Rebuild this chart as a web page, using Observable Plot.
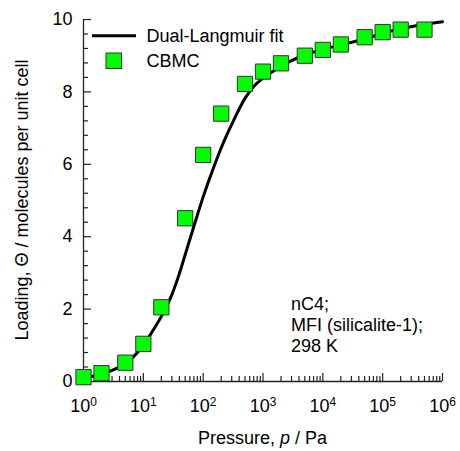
<!DOCTYPE html>
<html>
<head>
<meta charset="utf-8">
<script src="https://cdn.jsdelivr.net/npm/d3@7"></script>
<script src="https://cdn.jsdelivr.net/npm/@observablehq/plot@0.6"></script>
<style>
  html, body { margin: 0; padding: 0; background: #fff; }
  #chart svg { display: block; }
</style>
</head>
<body>
<div id="chart"></div>
<script>
// CBMC simulation data (pressure in Pa, loading in molecules per unit cell)
const cbmcPressure = [1, 2, 5, 10, 20, 50, 100, 200, 500, 1e3, 2e3, 5e3, 1e4, 2e4, 5e4, 1e5, 2e5, 5e5];
const cbmcLoading  = [0.12, 0.23, 0.52, 1.04, 2.05, 4.51, 6.26, 7.40, 8.22, 8.56, 8.79, 9.00, 9.16, 9.31, 9.51, 9.65, 9.72, 9.72];

// Dual-Langmuir fit curve
const fitPressure = [1, 1.5, 2, 3, 5, 7, 10, 15, 20, 30, 40, 50, 60, 70, 80, 100, 150, 200, 300, 500, 700, 1000, 1500, 2500, 5000, 1e4, 2e4, 5e4, 1e5, 2e5, 5e5, 1e6];
const fitLoading  = [0.10, 0.15, 0.21, 0.31, 0.50, 0.70, 1.00, 1.45, 1.80, 2.40, 2.98, 3.50, 3.93, 4.29, 4.60, 5.10, 5.92, 6.45, 7.10, 7.82, 8.15, 8.38, 8.58, 8.80, 9.02, 9.17, 9.30, 9.46, 9.62, 9.74, 9.87, 9.94];

// Axis ticks
const xMajorTicks = [1, 10, 100, 1e3, 1e4, 1e5, 1e6];
const xMinorTicks = xMajorTicks.slice(0, -1).flatMap(d => [2, 3, 4, 5, 6, 7, 8, 9].map(m => m * d));
const yMajorTicks = [0, 2, 4, 6, 8, 10];
const yMinorTicks = [0.4, 0.8, 1.2, 1.6, 2.4, 2.8, 3.2, 3.6, 4.4, 4.8, 5.2, 5.6, 6.4, 6.8, 7.2, 7.6, 8.4, 8.8, 9.2, 9.6];

const legendLabels = ["Dual-Langmuir fit", "CBMC"];
const annotationLines = ["nC4;", "MFI (silicalite-1);", "298 K"];

const cbmc = cbmcPressure.map((p, i) => ({p, q: cbmcLoading[i]}));
const fit = fitPressure.map((p, i) => ({p, q: fitLoading[i]}));

const W = 460, H = 451;
const mL = 83, mR = 18, mT = 19, mB = 70;
const fW = W - mL - mR, fH = H - mT - mB;
const axisColor = "#222";
const font = "'Liberation Sans', Arial, sans-serif";

const plot = Plot.plot({
  width: W,
  height: H,
  marginLeft: mL,
  marginRight: mR,
  marginTop: mT,
  marginBottom: mB,
  style: {fontSize: "18px", fontFamily: font, color: "#000", background: "#fff"},
  x: {type: "log", domain: [1, 1e6]},
  y: {domain: [0, 10]},
  marks: [
    Plot.axisX({ticks: xMajorTicks, tickSize: 0, tickPadding: 18, tickFormat: d => "10^" + Math.round(Math.log10(d)), label: null}),
    Plot.axisY({ticks: yMajorTicks, tickSize: 0, tickPadding: 11, label: null}),
    // inward ticks
    Plot.tickX(xMajorTicks, {x: d => d, insetTop: fH - 8, stroke: axisColor, strokeWidth: 1.2}),
    Plot.tickX(xMinorTicks, {x: d => d, insetTop: fH - 5, stroke: axisColor, strokeWidth: 1.2}),
    Plot.tickY(yMajorTicks, {y: d => d, insetRight: fW - 8, stroke: axisColor, strokeWidth: 1.2}),
    Plot.tickY(yMinorTicks, {y: d => d, insetRight: fW - 5, stroke: axisColor, strokeWidth: 1.2}),
    Plot.ruleY([0], {stroke: axisColor, strokeWidth: 1.3}),
    Plot.ruleX([1], {stroke: axisColor, strokeWidth: 1.3}),
    Plot.line(fit, {x: "p", y: "q", curve: "monotone-x", stroke: "#000", strokeWidth: 3}),
    Plot.dot(cbmc, {x: "p", y: "q", symbol: "square", r: 8.6, fill: "#00ff00", fillOpacity: 1, stroke: "#333", strokeWidth: 1})
  ]
});

const svg = d3.select(plot);

// superscript exponents on the x tick labels
svg.selectAll('g[aria-label="x-axis tick label"] text').each(function() {
  const t = d3.select(this);
  const s = t.text();
  const parts = s.split("^");
  if (parts.length === 2) {
    t.text(parts[0]);
    t.append("tspan").attr("dy", "-6").attr("font-size", "12px").text(parts[1]);
  }
});

// axis titles
svg.append("text")
  .attr("transform", `translate(22,${mT + fH / 2}) rotate(-90)`)
  .attr("text-anchor", "middle")
  .attr("dominant-baseline", "central")
  .attr("font-size", "18px")
  .attr("font-family", font)
  .attr("fill", "#000")
  .text("Loading, Θ / molecules per unit cell");

const xl = svg.append("text")
  .attr("x", mL + fW / 2)
  .attr("y", 444)
  .attr("text-anchor", "middle")
  .attr("font-size", "18px")
  .attr("font-family", font)
  .attr("fill", "#000");
xl.append("tspan").text("Pressure, ");
xl.append("tspan").attr("font-style", "italic").text("p");
xl.append("tspan").text(" / Pa");

// legend
const lg = svg.append("g").attr("font-size", "18px").attr("font-family", font).attr("fill", "#000").attr("text-anchor", "start");
lg.append("line").attr("x1", 92).attr("x2", 136).attr("y1", 35.7).attr("y2", 35.7)
  .attr("stroke", "#000").attr("stroke-width", 3);
lg.append("text").attr("x", 146.5).attr("y", 35.7).attr("dominant-baseline", "central").text(legendLabels[0]);
lg.append("rect").attr("x", 106).attr("y", 53).attr("width", 15.5).attr("height", 15.5)
  .attr("fill", "#00ff00").attr("stroke", "#333").attr("stroke-width", 1);
lg.append("text").attr("x", 146.5).attr("y", 61).attr("dominant-baseline", "central").text(legendLabels[1]);

// annotation
const an = svg.append("text").attr("font-size", "18px").attr("font-family", font).attr("fill", "#000").attr("text-anchor", "start");
annotationLines.forEach((line, i) => {
  an.append("tspan").attr("x", 291).attr("y", 310 + i * 20.8).text(line);
});

document.getElementById("chart").appendChild(plot);
</script>
</body>
</html>
